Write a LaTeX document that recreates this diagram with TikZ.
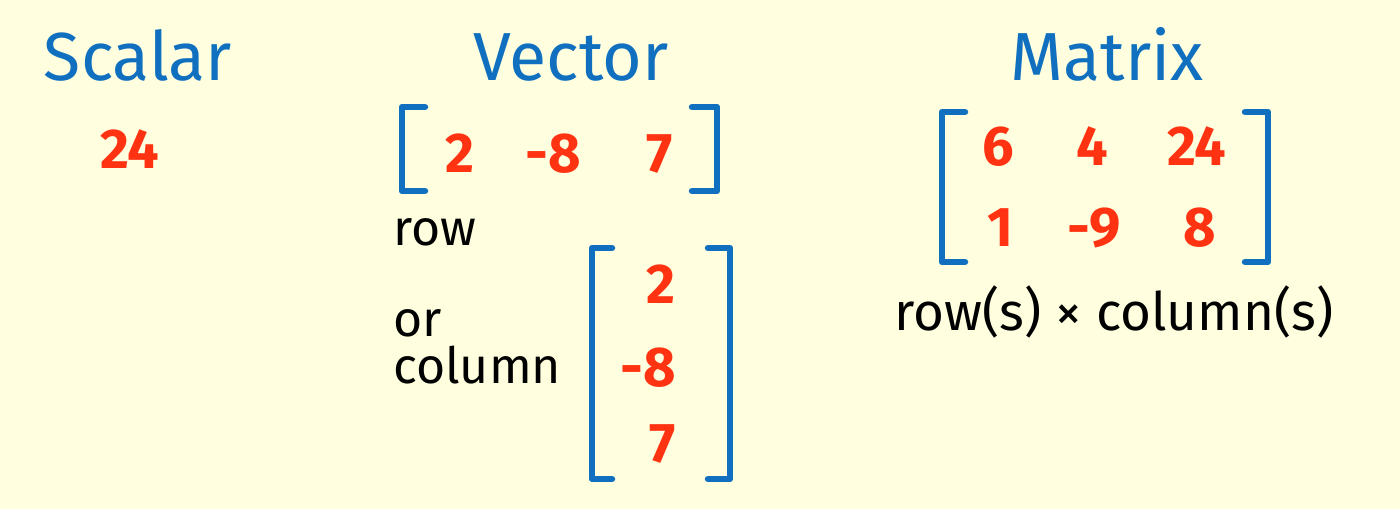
\documentclass[tikz,border=0pt]{standalone}
\usepackage{fontspec}
\setmainfont{Fira Sans}
\definecolor{bg}{HTML}{FFFFE0}
\definecolor{tblue}{HTML}{1070BF}
\definecolor{tred}{HTML}{FF3311}
\begin{document}
\begin{tikzpicture}[x=1pt,y=-1pt,
  title/.style={text=tblue,font=\fontsize{68}{72}\selectfont,anchor=base,inner sep=0},
  num/.style={text=tred,font=\bfseries\fontsize{56}{60}\selectfont,anchor=base,inner sep=0},
  numr/.style={num,anchor=base east},
  lbl/.style={text=black,font=\fontsize{50}{54}\selectfont,anchor=base west,inner sep=0},
  brk/.style={draw=tblue,line width=6.5pt,line cap=round,line join=round}]
\fill[bg] (0,0) rectangle (1400,509);
\useasboundingbox (0,0) rectangle (1400,509);
% titles
\node[title] (tscalar) at (138,80) {Scalar};
\node[title] (tvector) at (571,80) {Vector};
\node[title] (tmatrix) at (1107,80) {Matrix};
% scalar
\node[num] (s24) at (130,168) {24};
% row vector
\node[num] (r1) at (460,172) {2};
\node[numr] (r2) at (581,172) {-8};
\node[num] (r3) at (660,172) {7};
\draw[brk] (425,107) -- (402,107) -- (402,191) -- (425,191);
\draw[brk] (692,107) -- (717,107) -- (717,191) -- (692,191);
% labels
\node[lbl] (lrow) at (393,245) {row};
\node[lbl] (lor) at (393,336) {or};
\node[lbl] (lcol) at (393,383) {column};
% column vector
\node[numr] (c1) at (676,303) {2};
\node[numr] (c2) at (676,386) {-8};
\node[numr] (c3) at (676,462) {7};
\draw[brk] (612,248) -- (592,248) -- (592,479) -- (612,479);
\draw[brk] (708,248) -- (730,248) -- (730,479) -- (708,479);
% matrix
\node[num] (m11) at (998,165) {6};
\node[num] (m12) at (1092,165) {4};
\node[num] (m13) at (1197,165) {24};
\node[num] (m21) at (1000,246) {1};
\node[numr] (m22) at (1121,246) {-9};
\node[num] (m23) at (1200,246) {8};
\draw[brk] (965,112) -- (942,112) -- (942,262) -- (965,262);
\draw[brk] (1245,112) -- (1268,112) -- (1268,262) -- (1245,262);
\node[lbl,anchor=base,font=\fontsize{53}{56}\selectfont] (ldim) at (1114,330) {row(s) × column(s)};
\end{tikzpicture}
\end{document}
